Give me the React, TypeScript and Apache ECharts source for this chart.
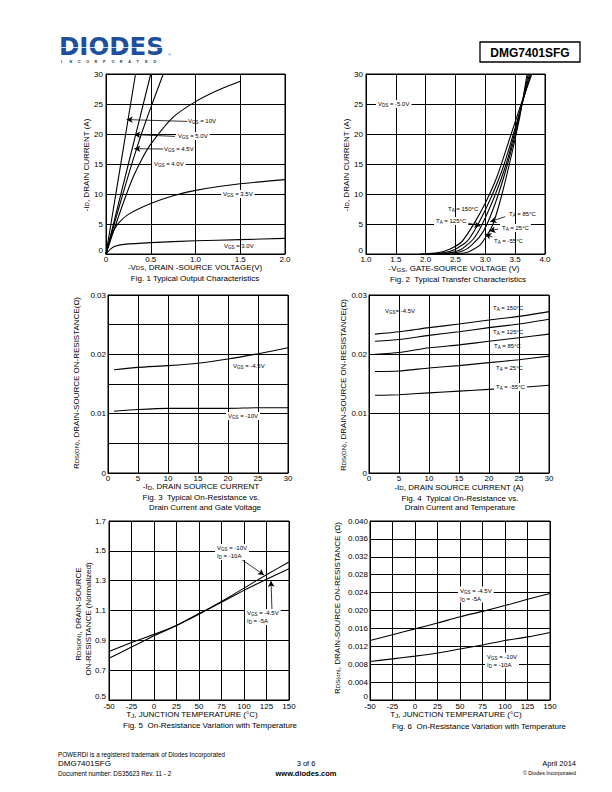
import React, { useEffect, useRef } from 'react';
import * as echarts from 'echarts';

// ---------- Fig. 1 Typical Output Characteristics (x: -VDS V, y: -ID A)
const fig1Vgs10 = [[0, 0], [0.1, 9.1], [0.2, 18.2], [0.33, 30]];
const fig1Vgs50 = [[0, 0], [0.25, 15], [0.5, 30]];
const fig1Vgs45 = [[0, 0], [0.1, 5.4], [0.2, 10.6], [0.3, 15.6], [0.4, 20.2], [0.5, 24.4], [0.64, 30]];
const fig1Vgs40 = [[0, 0], [0.1, 4.5], [0.2, 8.8], [0.3, 12.7], [0.4, 15.8], [0.5, 18.3], [0.75, 22.8], [1.0, 25.4], [1.25, 27.3], [1.5, 28.8]];
const fig1Vgs35 = [[0, 0], [0.05, 2.8], [0.1, 4.3], [0.15, 5.3], [0.25, 6.6], [0.5, 8.4], [0.75, 9.7], [1.0, 10.6], [1.5, 11.7], [2.0, 12.4]];
const fig1Vgs30 = [[0, 0], [0.05, 0.8], [0.1, 1.3], [0.2, 1.6], [0.5, 1.9], [1.0, 2.2], [1.5, 2.4], [2.0, 2.6]];

// ---------- Fig. 2 Typical Transfer Characteristics (x: -VGS V, y: -ID A)
const fig2T150 = [[1.9, 0], [2.2, 0.2], [2.4, 0.8], [2.6, 2.0], [2.8, 4.9], [3.0, 8.5], [3.2, 13], [3.4, 19], [3.6, 25], [3.78, 30]];
const fig2T125 = [[2.0, 0], [2.3, 0.2], [2.5, 0.8], [2.7, 2.2], [2.88, 5], [3.1, 9.5], [3.3, 14.5], [3.5, 21], [3.76, 30]];
const fig2T85 = [[2.1, 0], [2.4, 0.2], [2.6, 0.8], [2.8, 2.5], [2.95, 5], [3.17, 10], [3.35, 15], [3.5, 20.5], [3.74, 30]];
const fig2T25 = [[2.25, 0], [2.5, 0.2], [2.7, 0.9], [2.9, 2.8], [3.03, 5], [3.22, 10], [3.4, 16], [3.55, 22], [3.72, 30]];
const fig2Tm55 = [[2.45, 0], [2.7, 0.3], [2.9, 1.4], [3.02, 3], [3.13, 5], [3.28, 10], [3.45, 17], [3.58, 23], [3.7, 30]];

// ---------- Fig. 3 On-resistance vs drain current and gate voltage
const fig3Vgs45 = [[1, 0.0174], [5, 0.0178], [10, 0.0181], [15, 0.0185], [20, 0.0192], [25, 0.0201], [30, 0.0211]];
const fig3Vgs10 = [[1, 0.0104], [5, 0.0107], [10, 0.0109], [15, 0.0109], [20, 0.0109], [25, 0.0110], [30, 0.0110]];

// ---------- Fig. 4 On-resistance vs drain current and temperature
const fig4T150 = [[1, 0.0234], [5, 0.0238], [10, 0.0245], [15, 0.0251], [20, 0.0258], [25, 0.0264], [30, 0.0272]];
const fig4T125 = [[1, 0.0222], [5, 0.0225], [10, 0.0232], [15, 0.0238], [20, 0.0245], [25, 0.0251], [30, 0.0259]];
const fig4T85 = [[1, 0.0200], [5, 0.0203], [10, 0.0211], [15, 0.0216], [20, 0.0222], [25, 0.0228], [30, 0.0234]];
const fig4T25 = [[1, 0.0171], [5, 0.0172], [10, 0.0177], [15, 0.0181], [20, 0.0186], [25, 0.0191], [30, 0.0197]];
const fig4Tm55 = [[1, 0.0131], [5, 0.0132], [10, 0.0135], [15, 0.0138], [20, 0.0141], [25, 0.0144], [30, 0.0148]];

// ---------- Fig. 5 Normalized on-resistance vs junction temperature
const fig5Vgs10 = [[-50, 0.78], [-25, 0.855], [0, 0.93], [25, 1.0], [50, 1.075], [75, 1.16], [100, 1.25], [125, 1.34], [150, 1.425]];
const fig5Vgs45 = [[-50, 0.825], [-25, 0.885], [0, 0.94], [25, 1.0], [50, 1.08], [75, 1.155], [100, 1.235], [125, 1.31], [150, 1.38]];

// ---------- Fig. 6 On-resistance vs junction temperature
const fig6Vgs45 = [[-50, 0.0133], [-25, 0.0146], [0, 0.0159], [25, 0.0172], [50, 0.0186], [75, 0.0198], [100, 0.0211], [125, 0.0225], [150, 0.0238]];
const fig6Vgs10 = [[-50, 0.0086], [-25, 0.0092], [0, 0.0098], [25, 0.0105], [50, 0.0114], [75, 0.0123], [100, 0.0133], [125, 0.0141], [150, 0.0151]];

// ---------- axis ranges / ticks
const xRanges = [[0, 2, 0.5], [1, 4, 0.5], [0, 30, 5], [0, 30, 5], [-50, 150, 25], [-50, 150, 25]];
const yRanges = [[0, 30, 5], [0, 30, 5], [0, 0.03, 0.005], [0, 0.03, 0.01], [0.5, 1.7, 0.2], [0, 0.04, 0.004]];

// ---------- annotation arrows (data coordinates: [from, to])
const fig1Arrows = [[[0.908, 22.1], [0.231, 22.4]], [[0.771, 19.6], [0.316, 19.9]], [[0.64, 17.5], [0.316, 17.55]]];
const fig2Arrows = [[[2.70, 5.17], [2.917, 4.67]], [[3.333, 6.22], [3.083, 5.38]], [[3.217, 4.17], [3.067, 3.83]], [[3.117, 2.83], [3.0, 3.33]]];
const fig5Arrows = [[[93.3, 1.459], [122.2, 1.338]], [[131.1, 1.097], [130, 1.298]]];

const FONT = 'Liberation Sans, Arial, Helvetica, sans-serif';

const grids = [
  { left: 106, top: 74, width: 179, height: 180 },
  { left: 366, top: 74, width: 179, height: 180 },
  { left: 108, top: 295, width: 180, height: 178 },
  { left: 369, top: 295, width: 180, height: 178 },
  { left: 109, top: 521, width: 180, height: 179 },
  { left: 370, top: 521, width: 180, height: 179 },
];

const xFormat = [
  (v: number) => (v === 0 ? '0' : v.toFixed(1)),
  (v: number) => v.toFixed(1),
  (v: number) => String(v),
  (v: number) => String(v),
  (v: number) => String(v),
  (v: number) => String(v),
];
const yFormat = [
  (v: number) => String(v),
  (v: number) => String(v),
  (v: number) => {
    const k = Math.round(v * 1000);
    if (k % 10 !== 0) return '';
    return k === 0 ? '0' : v.toFixed(2);
  },
  (v: number) => (Math.round(v * 1000) === 0 ? '0' : v.toFixed(2)),
  (v: number) => v.toFixed(1),
  (v: number) => (Math.round(v * 1000) === 0 ? '0' : v.toFixed(3)),
];
const yLabelMargin = [3, 3, 2, 2, 3, 2];
const xLabelMargin = [1, 1, 1, 1, 2.5, 2.5];
const yMinAlign = ['bottom', 'bottom', 'middle', 'middle', 'bottom', 'bottom'];

const lineSeries = (data: number[][], idx: number, extra: any = {}) => ({
  type: 'line',
  xAxisIndex: idx,
  yAxisIndex: idx,
  data,
  symbol: 'none',
  showSymbol: false,
  smooth: 0.2,
  silent: true,
  lineStyle: { color: '#000', width: 1.1 },
  ...extra,
});

const arrowMark = (arrows: number[][][]) => ({
  markLine: {
    silent: true,
    symbol: ['none', 'arrow'],
    symbolSize: [5, 6],
    label: { show: false },
    lineStyle: { color: '#000', width: 0.8, type: 'solid' },
    data: arrows.map((a) => [{ coord: a[0] }, { coord: a[1] }]),
  },
});

const nameRich = {
  n: { fontSize: 8, lineHeight: 8, fontFamily: FONT, fill: '#000', color: '#000', verticalAlign: 'middle' },
  s: { fontSize: 6, lineHeight: 2, fontFamily: FONT, fill: '#000', color: '#000', verticalAlign: 'bottom' },
};
const annRich = {
  a: { fontSize: 6, lineHeight: 8, fontFamily: FONT, fill: '#000', color: '#000', verticalAlign: 'middle' },
  b: { fontSize: 4.5, lineHeight: 3, fontFamily: FONT, fill: '#000', color: '#000', verticalAlign: 'bottom' },
};

const nameText = (x: number, y: number, text: string, rotate = false) => ({
  type: 'text',
  x,
  y,
  rotation: rotate ? Math.PI / 2 : 0,
  silent: true,
  style: { text, rich: nameRich, align: 'center', verticalAlign: 'middle', fill: '#000', fontSize: 8, lineHeight: 8, fontFamily: FONT },
});

const plainText = (x: number, y: number, text: string, size: number, align = 'left', weight = 'normal') => ({
  type: 'text',
  x,
  y,
  silent: true,
  style: { text, align, verticalAlign: 'middle', fill: '#000', fontSize: size, lineHeight: size, fontFamily: FONT, fontWeight: weight },
});

const ann = (x: number, y: number, text: string, bg = false) => ({
  type: 'text',
  x,
  y,
  silent: true,
  z: 100,
  style: {
    text,
    rich: annRich,
    align: 'left',
    verticalAlign: 'middle',
    fill: '#000',
    fontSize: 6,
    fontFamily: FONT,
    backgroundColor: bg ? '#fff' : 'transparent',
    padding: bg ? [0, 2, 0, 2] : 0,
  },
});

const vs = (sub: string, rest: string, main = 'V') => `{a|${main}}{b|${sub}}{a|${rest}}`;

const logoLetters = 'INCORPORATED'.split('');

const graphics: any[] = [
  // logo
  {
    type: 'text', x: 59, y: 46, silent: true,
    style: { text: 'DIODES', fill: '#1d4f9e', fontSize: 24.5, lineHeight: 18, fontWeight: 'bold', fontFamily: 'DejaVu Sans, sans-serif', align: 'left', verticalAlign: 'middle' },
  },
  { type: 'rect', shape: { x: 58, y: 47.2, width: 110, height: 0.8 }, style: { fill: '#fff' }, z: 10, silent: true },
  { type: 'text', x: 168, y: 54, silent: true, style: { text: '®', fill: '#1d4f9e', fontSize: 4, lineHeight: 4, fontFamily: FONT, align: 'left', verticalAlign: 'middle' } },
  ...logoLetters.map((c, i) => ({
    type: 'text', x: 61 + i * 8.4, y: 62.3, silent: true,
    style: { text: c, fill: '#333', fontSize: 3.8, lineHeight: 4, fontWeight: 'bold', fontFamily: FONT, align: 'left', verticalAlign: 'middle' },
  })),
  // part number box
  { type: 'rect', shape: { x: 480, y: 42, width: 100, height: 20 }, style: { fill: 'none', stroke: '#000', lineWidth: 1.3 }, silent: true },
  plainText(530, 52.5, 'DMG7401SFG', 12, 'center', 'bold'),

  // Fig 1 texts
  nameText(86, 165, '{n|-I}{s|D}{n|, DRAIN CURRENT (A)}', true),
  nameText(195, 267, '{n|-V}{s|DS}{n|, DRAIN -SOURCE VOLTAGE(V)}'),
  plainText(195, 278, 'Fig. 1 Typical Output Characteristics', 8, 'center'),
  ann(188, 121, vs('GS', ' = 10V')),
  ann(176, 136, vs('GS', ' = 5.0V'), true),
  ann(164, 149, vs('GS', ' = 4.5V')),
  ann(152, 164, vs('GS', ' = 4.0V'), true),
  ann(221, 194, vs('GS', ' = 3.5V'), true),
  ann(224, 246, vs('GS', ' = 3.0V')),

  // Fig 2 texts
  nameText(346, 165, '{n|-I}{s|D}{n|, DRAIN CURRENT (A)}', true),
  nameText(454, 268.5, '{n|-V}{s|GS}{n|, GATE-SOURCE VOLTAGE (V)}'),
  plainText(458, 279, 'Fig. 2  Typical Transfer Characteristics', 8, 'center'),
  ann(376, 104, vs('DS', ' = -5.0V'), true),
  ann(448, 209, vs('A', ' = 150°C', 'T')),
  ann(434, 221, vs('A', ' = 125°C', 'T'), true),
  ann(509, 214, vs('A', ' = 85°C', 'T')),
  ann(500, 228, vs('A', ' = 25°C', 'T'), true),
  ann(494, 241, vs('A', ' = -55°C', 'T')),

  // Fig 3 texts
  nameText(76, 383, '{n|R}{s|DS(ON)}{n|, DRAIN-SOURCE ON-RESISTANCE(Ω)}', true),
  nameText(201, 486.5, '{n|-I}{s|D}{n|, DRAIN SOURCE CURRENT}'),
  plainText(201, 497.5, 'Fig. 3  Typical On-Resistance vs.', 8, 'center'),
  plainText(205, 507, 'Drain Current and Gate Voltage', 8, 'center'),
  ann(233, 366, vs('GS', ' = -4.5V')),
  ann(226, 416, vs('GS', ' = -10V'), true),

  // Fig 4 texts
  nameText(343, 385, '{n|R}{s|DS(ON)}{n|, DRAIN-SOURCE ON-RESISTANCE(Ω)}', true),
  nameText(459, 487, '{n|-I}{s|D}{n|, DRAIN SOURCE CURRENT (A)}'),
  plainText(460, 498.5, 'Fig. 4  Typical On-Resistance vs.', 8, 'center'),
  plainText(460, 507.5, 'Drain Current and Temperature', 8, 'center'),
  ann(385, 311, vs('GS', '= -4.5V')),
  ann(493, 308, vs('A', ' = 150°C', 'T')),
  ann(493, 332, vs('A', ' = 125°C', 'T')),
  ann(494, 346, vs('A', ' = 85°C', 'T')),
  ann(496, 368, vs('A', ' = 25°C', 'T')),
  ann(494, 387, vs('A', ' = -55°C', 'T'), true),

  // Fig 5 texts
  nameText(78, 614, '{n|R}{s|DS(ON)}{n|, DRAIN-SOURCE}', true),
  nameText(88.5, 619, '{n|ON-RESISTANCE (Normalized)}', true),
  nameText(192, 714.5, '{n|T}{s|J}{n|, JUNCTION TEMPERATURE (°C)}'),
  plainText(210, 725.5, 'Fig. 5  On-Resistance Variation with Temperature', 8, 'center'),
  ann(215, 552, vs('GS', ' = -10V') + '\n' + vs('D', ' = -10A', 'I'), true),
  ann(245, 617, vs('GS', ' = -4.5V') + '\n' + vs('D', ' = -5A', 'I'), true),

  // Fig 6 texts
  nameText(337, 608, '{n|R}{s|DS(on)}{n|, DRAIN-SOURCE ON-RESISTANCE (Ω)}', true),
  nameText(456, 714.5, '{n|T}{s|J}{n|, JUNCTION TEMPERATURE (°C)}'),
  plainText(479, 726, 'Fig. 6  On-Resistance Variation with Temperature', 8, 'center'),
  ann(458, 594.5, vs('GS', ' = -4.5V') + '\n' + vs('D', ' = -5A', 'I'), true),
  ann(485, 660.5, vs('GS', ' = -10V') + '\n' + vs('D', ' = -10A', 'I'), true),

  // footer
  plainText(58, 754, 'POWERDI is a registered trademark of Diodes Incorporated', 6.3),
  plainText(58, 763.5, 'DMG7401SFG', 8),
  plainText(58, 773, 'Document number: DS35623 Rev. 11 - 2', 6.3),
  plainText(306, 763.5, '3 of 6', 7.5, 'center'),
  plainText(306, 773, 'www.diodes.com', 7.5, 'center', 'bold'),
  plainText(576, 763.5, 'April 2014', 7.5, 'right'),
  plainText(576, 773, '© Diodes Incorporated', 5.3, 'right'),
];

const option: any = {
  animation: false,
  backgroundColor: '#fff',
  textStyle: { fontFamily: FONT },
  grid: grids.map((g) => ({ ...g, show: true, borderColor: '#000', borderWidth: 1, backgroundColor: 'transparent', containLabel: false })),
  xAxis: xRanges.map((r, i) => ({
    type: 'value',
    gridIndex: i,
    min: r[0],
    max: r[1],
    interval: r[2],
    axisLine: { show: true, onZero: false, lineStyle: { color: '#000', width: 1 } },
    axisTick: { show: false },
    splitLine: { show: true, lineStyle: { color: '#000', width: 1 } },
    axisLabel: { color: '#000', fontSize: 8, lineHeight: 8, fontFamily: FONT, margin: xLabelMargin[i], formatter: xFormat[i], showMinLabel: true, showMaxLabel: true },
  })),
  yAxis: yRanges.map((r, i) => ({
    type: 'value',
    gridIndex: i,
    min: r[0],
    max: r[1],
    interval: r[2],
    axisLine: { show: true, onZero: false, lineStyle: { color: '#000', width: 1 } },
    axisTick: { show: false },
    splitLine: { show: true, lineStyle: { color: '#000', width: 1 } },
    axisLabel: {
      color: '#000', fontSize: 8, lineHeight: 8, fontFamily: FONT, margin: yLabelMargin[i], formatter: yFormat[i],
      showMinLabel: true, showMaxLabel: true, verticalAlignMinLabel: yMinAlign[i],
    },
  })),
  series: [
    lineSeries(fig1Vgs10, 0, arrowMark(fig1Arrows)),
    lineSeries(fig1Vgs50, 0),
    lineSeries(fig1Vgs45, 0),
    lineSeries(fig1Vgs40, 0),
    lineSeries(fig1Vgs35, 0),
    lineSeries(fig1Vgs30, 0),
    lineSeries(fig2T150, 1, arrowMark(fig2Arrows)),
    lineSeries(fig2T125, 1),
    lineSeries(fig2T85, 1),
    lineSeries(fig2T25, 1),
    lineSeries(fig2Tm55, 1),
    lineSeries(fig3Vgs45, 2),
    lineSeries(fig3Vgs10, 2),
    lineSeries(fig4T150, 3),
    lineSeries(fig4T125, 3),
    lineSeries(fig4T85, 3),
    lineSeries(fig4T25, 3),
    lineSeries(fig4Tm55, 3),
    lineSeries(fig5Vgs10, 4, arrowMark(fig5Arrows)),
    lineSeries(fig5Vgs45, 4),
    lineSeries(fig6Vgs45, 5),
    lineSeries(fig6Vgs10, 5),
  ],
  graphic: { elements: graphics },
};

export default function App() {
  const ref = useRef<HTMLDivElement>(null);
  useEffect(() => {
    if (!ref.current) return;
    const chart = echarts.init(ref.current, null, { renderer: 'svg' });
    chart.setOption(option);
    return () => chart.dispose();
  }, []);
  return (
    <div
      ref={ref}
      style={{ position: 'absolute', left: 0, top: 0, width: 612, height: 792, background: '#fff' }}
    />
  );
}
